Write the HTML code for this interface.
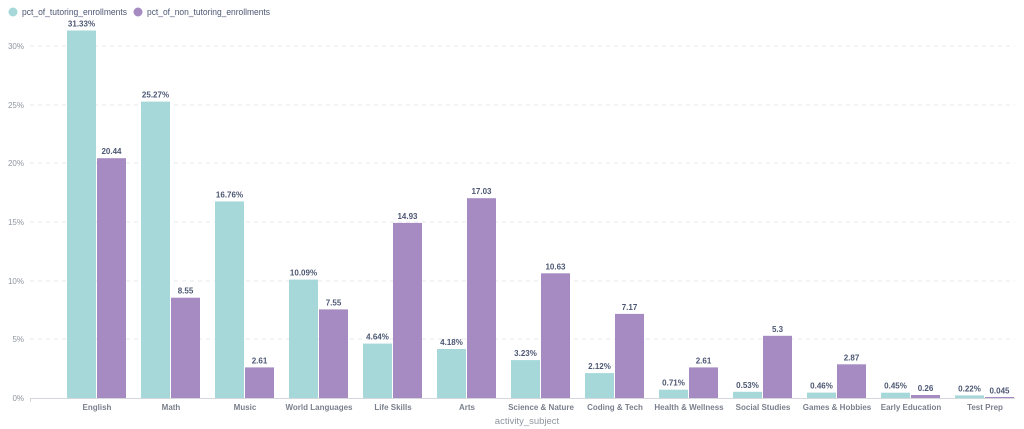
<!DOCTYPE html>
<html><head><meta charset="utf-8"><style>
html,body{margin:0;padding:0;background:#fff;}
svg{display:block;font-family:"Liberation Sans",sans-serif;}
</style></head><body>
<svg width="1024" height="429" viewBox="0 0 1024 429" xmlns="http://www.w3.org/2000/svg">
<circle cx="13" cy="12" r="4.5" fill="#a6d8d9"/>
<text x="22" y="15" fill="#4c5773" font-size="9" textLength="105" lengthAdjust="spacingAndGlyphs">pct_of_tutoring_enrollments</text>
<circle cx="138" cy="12" r="4.5" fill="#a68bc2"/>
<text x="147" y="15" fill="#4c5773" font-size="9" textLength="123" lengthAdjust="spacingAndGlyphs">pct_of_non_tutoring_enrollments</text>
<g stroke="#e6e8ec" stroke-dasharray="4,4" stroke-width="1">
<line x1="30" x2="1015" y1="46" y2="46"/>
<line x1="30" x2="1015" y1="105" y2="105"/>
<line x1="30" x2="1015" y1="163" y2="163"/>
<line x1="30" x2="1015" y1="222" y2="222"/>
<line x1="30" x2="1015" y1="281" y2="281"/>
<line x1="30" x2="1015" y1="339" y2="339"/>
</g>
<g font-size="8" fill="#8f95a0" text-anchor="end">
<text x="24" y="49">30%</text><text x="24" y="108">25%</text><text x="24" y="166">20%</text>
<text x="24" y="225">15%</text><text x="24" y="284">10%</text><text x="24" y="342">5%</text><text x="24" y="401">0%</text>
</g>
<g fill="#a6d8d9">
<rect x="67" y="30.5" width="29" height="367.5"/>
<rect x="141" y="101.6" width="29" height="296.4"/>
<rect x="215" y="201.4" width="29" height="196.6"/>
<rect x="289" y="279.6" width="29" height="118.4"/>
<rect x="363" y="343.6" width="29" height="54.4"/>
<rect x="437" y="349" width="29" height="49"/>
<rect x="511" y="360.1" width="29" height="37.9"/>
<rect x="585" y="373.1" width="29" height="24.9"/>
<rect x="659" y="389.7" width="29" height="8.3"/>
<rect x="733" y="391.8" width="29" height="6.2"/>
<rect x="807" y="392.6" width="29" height="5.4"/>
<rect x="881" y="392.7" width="29" height="5.3"/>
<rect x="955" y="395.4" width="29" height="2.6"/>
</g>
<g fill="#a68bc2">
<rect x="97" y="158.2" width="29" height="239.8"/>
<rect x="171" y="297.7" width="29" height="100.3"/>
<rect x="245" y="367.4" width="29" height="30.6"/>
<rect x="319" y="309.4" width="29" height="88.6"/>
<rect x="393" y="222.9" width="29" height="175.1"/>
<rect x="467" y="198.2" width="29" height="199.8"/>
<rect x="541" y="273.3" width="29" height="124.7"/>
<rect x="615" y="313.9" width="29" height="84.1"/>
<rect x="689" y="367.4" width="29" height="30.6"/>
<rect x="763" y="335.8" width="29" height="62.2"/>
<rect x="837" y="364.3" width="29" height="33.7"/>
<rect x="911" y="395" width="29" height="3"/>
<rect x="985" y="397" width="29" height="1"/>
</g>
<g font-size="8" font-weight="bold" fill="#4c5773" text-anchor="middle">
<text x="81.5" y="26.5">31.33%</text>
<text x="155.5" y="97.6">25.27%</text>
<text x="229.5" y="197.4">16.76%</text>
<text x="303.5" y="275.6">10.09%</text>
<text x="377.5" y="339.6">4.64%</text>
<text x="451.5" y="345">4.18%</text>
<text x="525.5" y="356.1">3.23%</text>
<text x="599.5" y="369.1">2.12%</text>
<text x="673.5" y="385.7">0.71%</text>
<text x="747.5" y="387.8">0.53%</text>
<text x="821.5" y="388.6">0.46%</text>
<text x="895.5" y="388.7">0.45%</text>
<text x="969.5" y="391.4">0.22%</text>
<text x="111.5" y="154.2">20.44</text>
<text x="185.5" y="293.7">8.55</text>
<text x="259.5" y="363.4">2.61</text>
<text x="333.5" y="305.4">7.55</text>
<text x="407.5" y="218.9">14.93</text>
<text x="481.5" y="194.2">17.03</text>
<text x="555.5" y="269.3">10.63</text>
<text x="629.5" y="309.9">7.17</text>
<text x="703.5" y="363.4">2.61</text>
<text x="777.5" y="331.8">5.3</text>
<text x="851.5" y="360.3">2.87</text>
<text x="925.5" y="391">0.26</text>
<text x="999.5" y="393.5">0.045</text>
</g>
<line x1="30" x2="1015" y1="398.5" y2="398.5" stroke="#d4d7dc"/>
<line x1="30.5" x2="30.5" y1="398" y2="402" stroke="#d4d7dc"/>
<g font-size="8" font-weight="bold" fill="#7a808c" text-anchor="middle">
<text x="97" y="410">English</text>
<text x="171" y="410">Math</text>
<text x="245" y="410">Music</text>
<text x="319" y="410">World Languages</text>
<text x="393" y="410">Life Skills</text>
<text x="467" y="410">Arts</text>
<text x="541" y="410">Science &amp; Nature</text>
<text x="615" y="410">Coding &amp; Tech</text>
<text x="689" y="410">Health &amp; Wellness</text>
<text x="763" y="410">Social Studies</text>
<text x="837" y="410">Games &amp; Hobbies</text>
<text x="911" y="410">Early Education</text>
<text x="985" y="410">Test Prep</text>
</g>
<text x="527" y="424" font-size="9.5" fill="#8f95a0" text-anchor="middle">activity_subject</text>
</svg>
</body></html>
